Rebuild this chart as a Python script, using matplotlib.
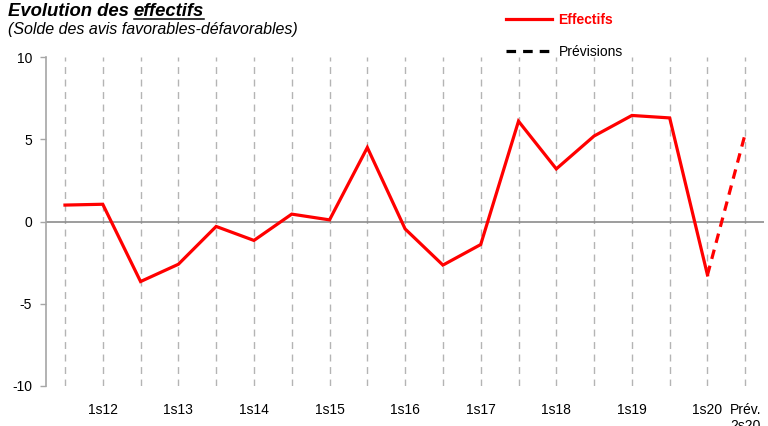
import matplotlib.pyplot as plt
from matplotlib.lines import Line2D

plt.rcParams['font.family'] = ['Liberation Sans', 'DejaVu Sans']
plt.rcParams['axes.unicode_minus'] = False

# semesters 2s11 .. 1s20 (labels only on first semesters), then forecast 2s20
labels = ["", "1s12", "", "1s13", "", "1s14", "", "1s15", "", "1s16",
          "", "1s17", "", "1s18", "", "1s19", "", "1s20", "Prév.\n2s20"]
effectifs = [1.0, 1.05, -3.65, -2.6, -0.3, -1.15, 0.45, 0.1, 4.5, -0.45,
             -2.65, -1.4, 6.1, 3.2, 5.2, 6.45, 6.3, -3.25]
prevision = 5.35

fig = plt.figure(figsize=(7.68, 4.26), dpi=100)
ax = fig.add_axes([0.060, 0.094, 0.935, 0.772])

x = list(range(len(labels)))
grey = '#a6a6a6'

# dashed vertical gridlines at each semester
ax.vlines(x, -10, 10, colors='#b4b4b4', linestyles=(0, (5, 4)), linewidth=1, zorder=1)
ax.axhline(0, color='#8c8c8c', linewidth=1.2, zorder=2)

line_eff, = ax.plot(x[:len(effectifs)], effectifs, color='#ff0000', linewidth=2.3,
                    solid_joinstyle='miter', zorder=3)
ax.plot([x[len(effectifs) - 1], x[-1]], [effectifs[-1], prevision], color='#ff0000',
        linewidth=2.3, linestyle=(0, (3, 2.2)), zorder=3)

ax.set_xlim(-0.5, len(labels) - 0.5)
ax.set_ylim(-10, 10)
ax.set_yticks([-10, -5, 0, 5, 10])
ax.set_xticks(x)
ax.set_xticklabels(labels)
ax.tick_params(axis='x', length=0, pad=12, labelsize=10)
ax.tick_params(axis='y', length=4, color=grey, width=1, labelsize=10, pad=6)
for s in ['top', 'right', 'bottom']:
    ax.spines[s].set_visible(False)
ax.spines['left'].set_color(grey)
ax.spines['left'].set_linewidth(1.2)

# legend above the plot
h1 = Line2D([], [], color='#ff0000', linewidth=2.3)
h2 = Line2D([], [], color='black', linewidth=2.3, linestyle=(0, (3, 2.2)))
leg = fig.legend([h1, h2], ['Effectifs', 'Prévisions'], loc='upper left',
                 bbox_to_anchor=(0.643, 1.0), frameon=False, fontsize=10,
                 handlelength=3.3, handletextpad=0.45, labelspacing=1.3)
leg.get_texts()[0].set_color('#ff0000')
leg.get_texts()[0].set_fontweight('bold')

# title with underlined word
t1 = fig.text(0.010, 0.993, "Evolution des ", fontsize=13.3, fontweight='bold',
              fontstyle='italic', va='top', ha='left')
fig.canvas.draw()
bb = t1.get_window_extent()
x2 = bb.x1 / fig.bbox.width
t2 = fig.text(x2, 0.993, "effectifs", fontsize=13.3, fontweight='bold',
              fontstyle='italic', va='top', ha='left')
fig.canvas.draw()
bb2 = t2.get_window_extent()
fig.add_artist(Line2D([bb2.x0 / fig.bbox.width, bb2.x1 / fig.bbox.width],
                      [(bb2.y0 + 1) / fig.bbox.height] * 2, color='black', linewidth=1.1))
fig.text(0.010, 0.948, "(Solde des avis favorables-défavorables)", fontsize=11.5,
         fontstyle='italic', va='top', ha='left')

fig.savefig('out.png', dpi=100)
